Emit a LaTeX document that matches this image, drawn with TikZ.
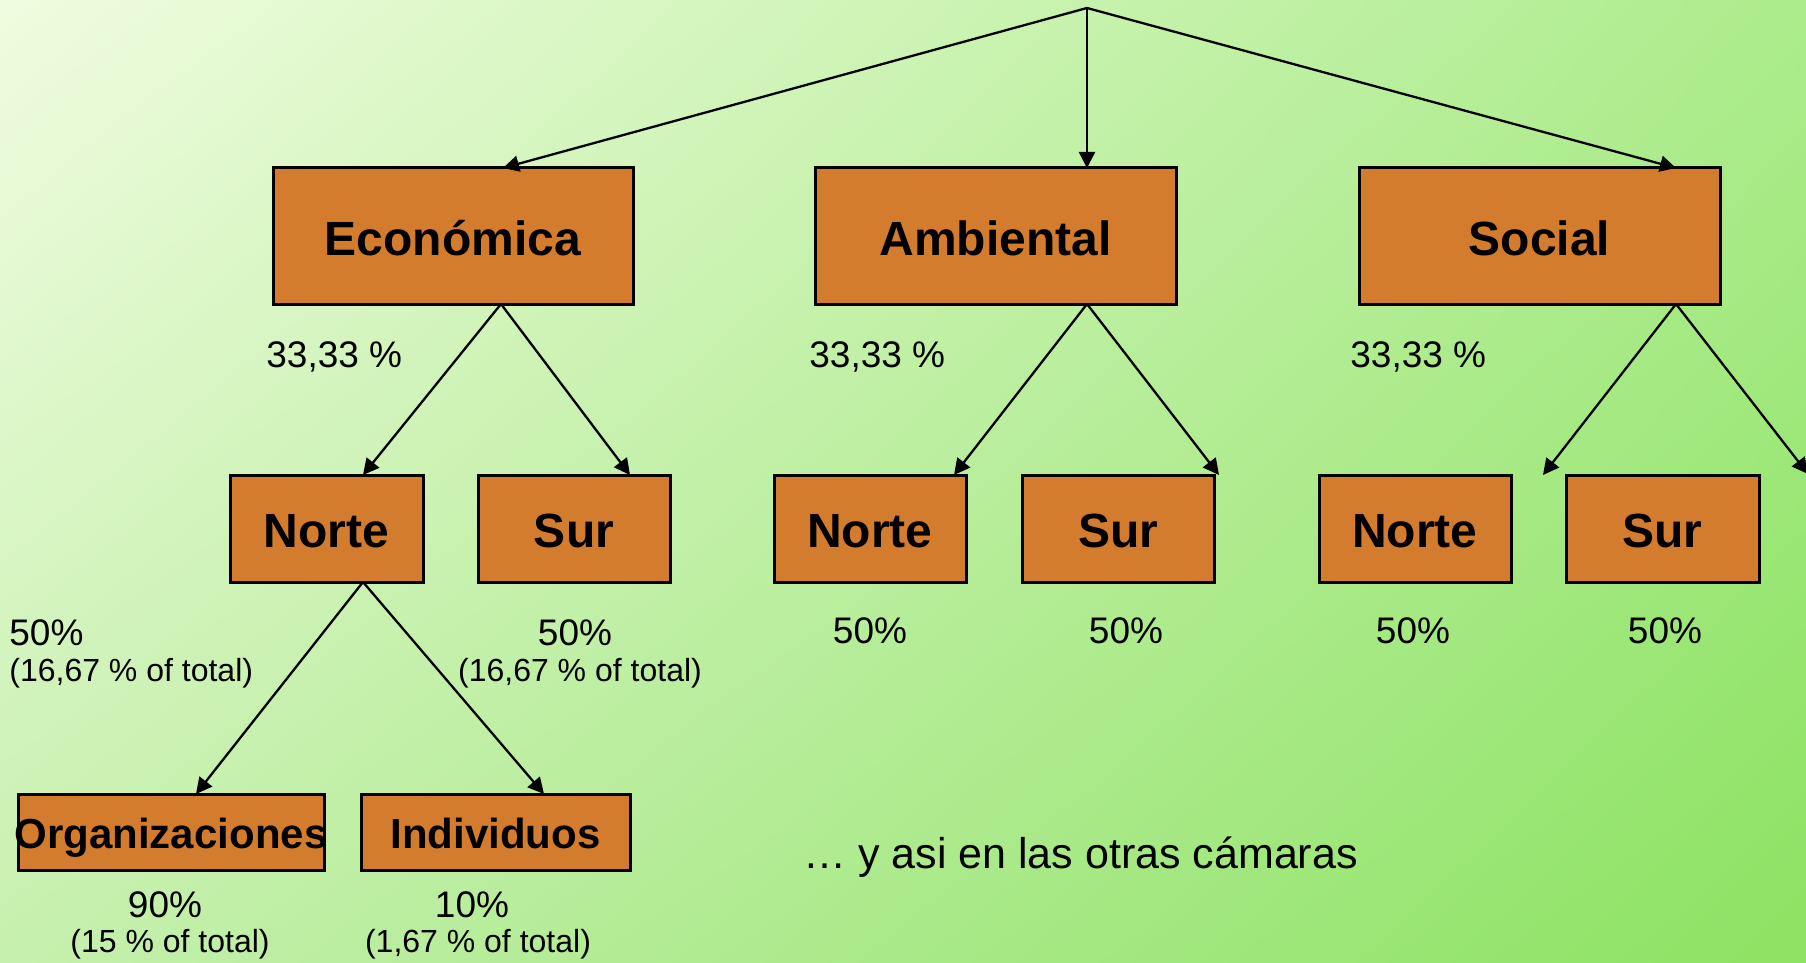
\documentclass[tikz,border=0pt]{standalone}
\usepackage{fontspec}
\setmainfont{Liberation Sans}
\usetikzlibrary{arrows.meta,shadings}
\definecolor{boxfill}{RGB}{212,124,46}
\definecolor{bgTL}{RGB}{240,252,224}
\definecolor{bgTR}{RGB}{172,236,140}
\definecolor{bgBL}{RGB}{198,240,174}
\definecolor{bgBR}{RGB}{140,226,98}
\tikzset{
  box/.style={draw=black, line width=1.5pt, fill=boxfill, inner sep=0pt, text height=19.2pt, text depth=0pt, font=\bfseries\fontsize{24}{28}\selectfont},
  boxsmall/.style={box, text height=16.6pt, font=\bfseries\fontsize{21}{25}\selectfont},
  pct/.style={inner sep=0pt, font=\fontsize{18.5}{22}\selectfont},
  pctsmall/.style={inner sep=0pt, font=\fontsize{16}{19}\selectfont},
  note/.style={inner sep=0pt, font=\fontsize{21.5}{25}\selectfont},
  arr/.style={line width=1.15pt, -{Triangle[length=8pt,width=8pt]}}
}
\begin{document}
\begin{tikzpicture}[x=0.5pt,y=-0.5pt]
\useasboundingbox (0,0) rectangle (1806,963);
\clip (0,0) rectangle (1806,963);
\shade[upper left=bgTL, upper right=bgTR, lower left=bgBL, lower right=bgBR] (0,0) rectangle (1806,963);

% level 1
\node[box, minimum width=180pt, minimum height=68pt] (eco) at (453,236) {Económica};
\node[box, minimum width=180.5pt, minimum height=68pt] (amb) at (995.5,236) {Ambiental};
\node[box, minimum width=180.5pt, minimum height=68pt] (soc) at (1539.5,236) {Social};

% level 2
\node[box, minimum width=96.5pt, minimum height=53.5pt] (n1) at (326.5,528.5) {Norte};
\node[box, minimum width=96pt, minimum height=53.5pt] (s1) at (574,528.5) {Sur};
\node[box, minimum width=96pt, minimum height=53.5pt] (n2) at (870,528.5) {Norte};
\node[box, minimum width=96pt, minimum height=53.5pt] (s2) at (1118,528.5) {Sur};
\node[box, minimum width=96pt, minimum height=53.5pt] (n3) at (1415,528.5) {Norte};
\node[box, minimum width=96.5pt, minimum height=53.5pt] (s3) at (1662.5,528.5) {Sur};

% level 3
\node[boxsmall, minimum width=153pt, minimum height=38pt] (org) at (171,832) {\makebox[0pt][c]{Organizaciones}};
\node[boxsmall, minimum width=134.5pt, minimum height=38pt] (ind) at (495.5,832) {Individuos};

% connector points
\coordinate (top) at (1087,8);
\coordinate (ecoIn) at (503,168);
\coordinate (ambIn) at (1087,168);
\coordinate (socIn) at (1676,168);
\coordinate (ecoOut) at (501,304);
\coordinate (ambOut) at (1087,304);
\coordinate (socOut) at (1676,304);
\coordinate (n1In) at (363,475);
\coordinate (s1In) at (630,475);
\coordinate (n2In) at (954,475);
\coordinate (s2In) at (1219,475);
\coordinate (n3In) at (1543,475);
\coordinate (s3In) at (1808,474);
\coordinate (n1Out) at (363,582);
\coordinate (orgIn) at (196,794);
\coordinate (indIn) at (544,794);

\draw[arr] (top) -- (ecoIn);
\draw[arr] (top) -- (ambIn);
\draw[arr] (top) -- (socIn);
\draw[arr] (ecoOut) -- (n1In);
\draw[arr] (ecoOut) -- (s1In);
\draw[arr] (ambOut) -- (n2In);
\draw[arr] (ambOut) -- (s2In);
\draw[arr] (socOut) -- (n3In);
\draw[arr] (socOut) -- (s3In);
\draw[arr] (n1Out) -- (orgIn);
\draw[arr] (n1Out) -- (indIn);

% labels
\node[pct, anchor=west] (p1) at (266,357) {33,33 \%};
\node[pct, anchor=west] (p2) at (809,357) {33,33 \%};
\node[pct, anchor=west] (p3) at (1350,357) {33,33 \%};

\node[pct, anchor=west] (q1) at (9,633) {50\%};
\node[pctsmall, anchor=west] (q1b) at (9,673) {(16,67 \% of total)};
\node[pct] (q2) at (575,633) {50\%};
\node[pctsmall] (q2b) at (580,673) {(16,67 \% of total)};
\node[pct] (q3) at (870,631) {50\%};
\node[pct] (q4) at (1126,631) {50\%};
\node[pct] (q5) at (1413,631) {50\%};
\node[pct] (q6) at (1665,631) {50\%};

\node[pct] (r1) at (165,905) {90\%};
\node[pctsmall] (r1b) at (170,944) {(15 \% of total)};
\node[pct] (r2) at (472,905) {10\%};
\node[pctsmall] (r2b) at (478,944) {(1,67 \% of total)};

\node[note, anchor=west] (nt) at (803,857) {… y asi en las otras cámaras};
\end{tikzpicture}
\end{document}
